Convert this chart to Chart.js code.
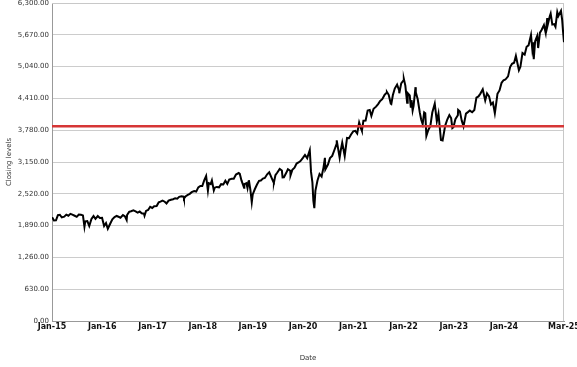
<!DOCTYPE html>
<html>
<head>
<meta charset="utf-8">
<script src="https://cdn.jsdelivr.net/npm/chart.js@4.4.1/dist/chart.umd.min.js"></script>
<style>
  html, body { margin: 0; padding: 0; background: #fff; }
  #wrap { width: 577px; height: 367px; }
</style>
</head>
<body>
<div id="wrap"><canvas id="closeChart"></canvas></div>
<script>
// closing levels (month ends plus visible highs / lows)
const dates = [
  "2015-01-02","2015-01-15","2015-01-30","2015-02-13","2015-02-27","2015-03-13","2015-03-31","2015-04-15","2015-04-30","2015-05-15","2015-05-29","2015-06-15","2015-06-30","2015-07-15","2015-07-31","2015-08-14","2015-08-25","2015-08-31","2015-09-15","2015-09-29","2015-10-15","2015-10-30","2015-11-13","2015-11-30","2015-12-15","2015-12-31",
  "2016-01-15","2016-01-29","2016-02-11","2016-02-29","2016-03-15","2016-03-31","2016-04-15","2016-04-29","2016-05-13","2016-05-31","2016-06-15","2016-06-27","2016-06-30","2016-07-15","2016-07-29","2016-08-15","2016-08-31","2016-09-15","2016-09-30","2016-10-14","2016-10-31","2016-11-04","2016-11-15","2016-11-30","2016-12-15","2016-12-30",
  "2017-01-13","2017-01-31","2017-02-15","2017-02-28","2017-03-15","2017-03-31","2017-04-13","2017-04-28","2017-05-15","2017-05-31","2017-06-15","2017-06-30","2017-07-14","2017-07-31","2017-08-15","2017-08-18","2017-08-31","2017-09-15","2017-09-29","2017-10-13","2017-10-31","2017-11-15","2017-11-30","2017-12-15","2017-12-29",
  "2018-01-12","2018-01-26","2018-02-08","2018-02-15","2018-02-28","2018-03-09","2018-03-23","2018-03-30","2018-04-13","2018-04-30","2018-05-15","2018-05-31","2018-06-15","2018-06-29","2018-07-13","2018-07-31","2018-08-15","2018-08-31","2018-09-20","2018-09-28","2018-10-10","2018-10-29","2018-10-31","2018-11-15","2018-11-23","2018-11-30","2018-12-03","2018-12-14","2018-12-24","2018-12-31",
  "2019-01-15","2019-01-31","2019-02-15","2019-02-28","2019-03-15","2019-03-29","2019-04-15","2019-04-30","2019-05-15","2019-05-31","2019-06-03","2019-06-14","2019-06-28","2019-07-15","2019-07-31","2019-08-05","2019-08-15","2019-08-30","2019-09-13","2019-09-30","2019-10-02","2019-10-15","2019-10-31","2019-11-15","2019-11-29","2019-12-13","2019-12-31",
  "2020-01-15","2020-01-31","2020-02-19","2020-02-28","2020-03-09","2020-03-16","2020-03-23","2020-03-31","2020-04-15","2020-04-30","2020-05-15","2020-05-29","2020-06-08","2020-06-11","2020-06-30","2020-07-15","2020-07-31","2020-08-14","2020-08-31","2020-09-02","2020-09-23","2020-09-30","2020-10-12","2020-10-30","2020-11-16","2020-11-30","2020-12-15","2020-12-31",
  "2021-01-15","2021-01-29","2021-02-12","2021-02-26","2021-03-04","2021-03-15","2021-03-31","2021-04-15","2021-04-30","2021-05-12","2021-05-28","2021-06-15","2021-06-30","2021-07-15","2021-07-30","2021-08-16","2021-08-31","2021-09-02","2021-09-15","2021-09-30","2021-10-04","2021-10-15","2021-10-29","2021-11-15","2021-11-30","2021-12-01","2021-12-15","2021-12-31",
  "2022-01-03","2022-01-14","2022-01-27","2022-01-31","2022-02-15","2022-02-23","2022-02-28","2022-03-08","2022-03-15","2022-03-29","2022-03-31","2022-04-14","2022-04-29","2022-05-09","2022-05-20","2022-05-31","2022-06-08","2022-06-16","2022-06-30","2022-07-15","2022-07-29","2022-08-16","2022-08-31","2022-09-12","2022-09-30","2022-10-12","2022-10-31","2022-11-15","2022-11-30","2022-12-13","2022-12-22","2022-12-30",
  "2023-01-13","2023-01-31","2023-02-02","2023-02-15","2023-02-28","2023-03-13","2023-03-31","2023-04-14","2023-04-28","2023-05-15","2023-05-31","2023-06-15","2023-06-30","2023-07-14","2023-07-31","2023-08-18","2023-08-31","2023-09-15","2023-09-29","2023-10-13","2023-10-27","2023-10-31","2023-11-15","2023-11-30","2023-12-15","2023-12-29",
  "2024-01-12","2024-01-31","2024-02-15","2024-02-29","2024-03-15","2024-03-28","2024-04-19","2024-04-30","2024-05-15","2024-05-31","2024-06-14","2024-06-28","2024-07-16","2024-07-25","2024-07-31","2024-08-05","2024-08-15","2024-08-30","2024-09-06","2024-09-19","2024-09-30","2024-10-18","2024-10-31","2024-11-11","2024-11-15","2024-11-29","2024-12-06","2024-12-18","2024-12-31",
  "2025-01-10","2025-01-23","2025-01-31","2025-02-19","2025-02-28","2025-03-06","2025-03-13"
];
const closes = [
  2058,1993,1995,2097,2105,2053,2068,2107,2086,2123,2107,2085,2063,2108,2104,2092,1868,1972,1979,1884,2023,2079,2023,2080,2043,2044,
  1880,1940,1829,1932,2016,2060,2081,2065,2047,2097,2071,2001,2099,2162,2174,2191,2171,2147,2168,2133,2126,2085,2180,2199,2262,2239,
  2275,2279,2350,2364,2385,2363,2329,2384,2402,2412,2433,2423,2459,2470,2464,2425,2472,2500,2519,2553,2575,2564,2648,2676,2674,
  2786,2873,2581,2731,2714,2786,2588,2641,2656,2648,2711,2705,2779,2718,2801,2816,2818,2902,2931,2914,2786,2641,2712,2730,2633,2760,2790,2600,2351,2507,
  2610,2704,2776,2784,2822,2834,2906,2946,2850,2752,2744,2887,2942,3014,2980,2845,2848,2926,3007,2977,2888,2995,3038,3120,3141,3169,3231,
  3289,3226,3386,2954,2747,2386,2237,2585,2783,2912,2864,3044,3232,3002,3100,3227,3271,3373,3500,3580,3237,3363,3535,3270,3627,3622,3695,3756,
  3768,3714,3934,3811,3768,3969,3973,4170,4181,4063,4204,4247,4298,4360,4395,4479,4523,4537,4481,4308,4300,4471,4605,4683,4567,4513,4709,4766,
  4797,4663,4326,4516,4471,4225,4374,4170,4262,4632,4530,4392,4132,3991,3901,4132,4116,3667,3785,3863,4130,4305,3955,4110,3586,3577,3872,3992,4080,4020,3822,3840,
  3999,4077,4180,4148,3970,3856,4109,4138,4169,4136,4180,4426,4450,4505,4589,4370,4508,4450,4288,4328,4117,4194,4502,4568,4719,4770,
  4784,4846,5030,5096,5117,5254,4967,5036,5308,5278,5432,5460,5667,5399,5522,5186,5543,5648,5408,5713,5762,5864,5705,6001,5870,6032,6090,5872,5882,
  5827,6119,6041,6144,5955,5739,5522
];
const refLevel = 3860;
const yTicks = [0, 630, 1260, 1890, 2520, 3150, 3780, 4410, 5040, 5670, 6300];
const tickYears = [2015, 2016, 2017, 2018, 2019, 2020, 2021, 2022, 2023, 2024];
const monthNames = ["Jan","Feb","Mar","Apr","May","Jun","Jul","Aug","Sep","Oct","Nov","Dec"];

const xMin = Date.UTC(2015, 0, 1);
const xMax = Date.parse(dates[dates.length - 1]);
const points = dates.map((d, i) => ({ x: Date.parse(d), y: closes[i] }));

const frame = {
  id: "frame",
  beforeDatasetsDraw(c) {
    const a = c.chartArea, g = c.ctx;
    g.save();
    g.strokeStyle = "#c8c8c8";
    g.lineWidth = 1;
    g.beginPath();
    g.moveTo(a.left, a.top + 0.5);
    g.lineTo(a.right - 0.5, a.top + 0.5);
    g.lineTo(a.right - 0.5, a.bottom);
    g.stroke();
    g.restore();
  }
};

function fmtDate(v) {
  const d = new Date(v);
  return monthNames[d.getUTCMonth()] + "-" + String(d.getUTCFullYear()).slice(2);
}

new Chart(document.getElementById("closeChart"), {
  type: "line",
  data: {
    datasets: [
      {
        data: points,
        borderColor: "#000",
        borderWidth: 2,
        pointRadius: 0,
        tension: 0,
        order: 1
      },
      {
        data: [{ x: xMin, y: refLevel }, { x: xMax, y: refLevel }],
        borderColor: "rgb(214,54,54)",
        borderWidth: 2.5,
        pointRadius: 0,
        order: 0
      }
    ]
  },
  options: {
    animation: false,
    responsive: true,
    maintainAspectRatio: false,
    layout: { padding: { top: 3, right: 13, left: 0, bottom: 0 } },
    plugins: { legend: { display: false }, tooltip: { enabled: false } },
    scales: {
      x: {
        type: "linear",
        min: xMin,
        max: xMax,
        afterBuildTicks: (s) => {
          s.ticks = tickYears.map((y) => ({ value: Date.UTC(y, 0, 1) })).concat([{ value: xMax }]);
        },
        afterFit: (s) => { s.height = 46; s.paddingLeft = 0; s.paddingRight = 13; },
        grid: { display: false, drawTicks: false },
        border: { color: "#999", width: 1 },
        ticks: {
          autoSkip: false,
          maxRotation: 0,
          padding: 1,
          color: "#111",
          font: { family: "DejaVu Sans", size: 8, weight: "bold" },
          callback: (v) => fmtDate(v)
        },
        title: {
          display: true,
          text: "Date",
          color: "#333",
          font: { family: "DejaVu Sans", size: 7 },
          padding: { top: 0, bottom: 5 }
        }
      },
      y: {
        min: 0,
        max: 6300,
        afterBuildTicks: (s) => { s.ticks = yTicks.map((v) => ({ value: v })); },
        afterFit: (s) => { s.width = 52; s.paddingTop = 3; s.paddingBottom = 0; },
        grid: { color: "#cccccc", lineWidth: 1, drawTicks: false },
        border: { color: "#999", width: 1 },
        ticks: {
          padding: 3,
          color: "#333",
          font: { family: "DejaVu Sans", size: 7 },
          callback: (v) => v.toLocaleString("en-US", { minimumFractionDigits: 2, maximumFractionDigits: 2 })
        },
        title: {
          display: true,
          text: "Closing levels",
          color: "#333",
          font: { family: "DejaVu Sans", size: 7 },
          padding: { top: 5, bottom: 0 }
        }
      }
    }
  },
  plugins: [frame]
});
</script>
</body>
</html>
